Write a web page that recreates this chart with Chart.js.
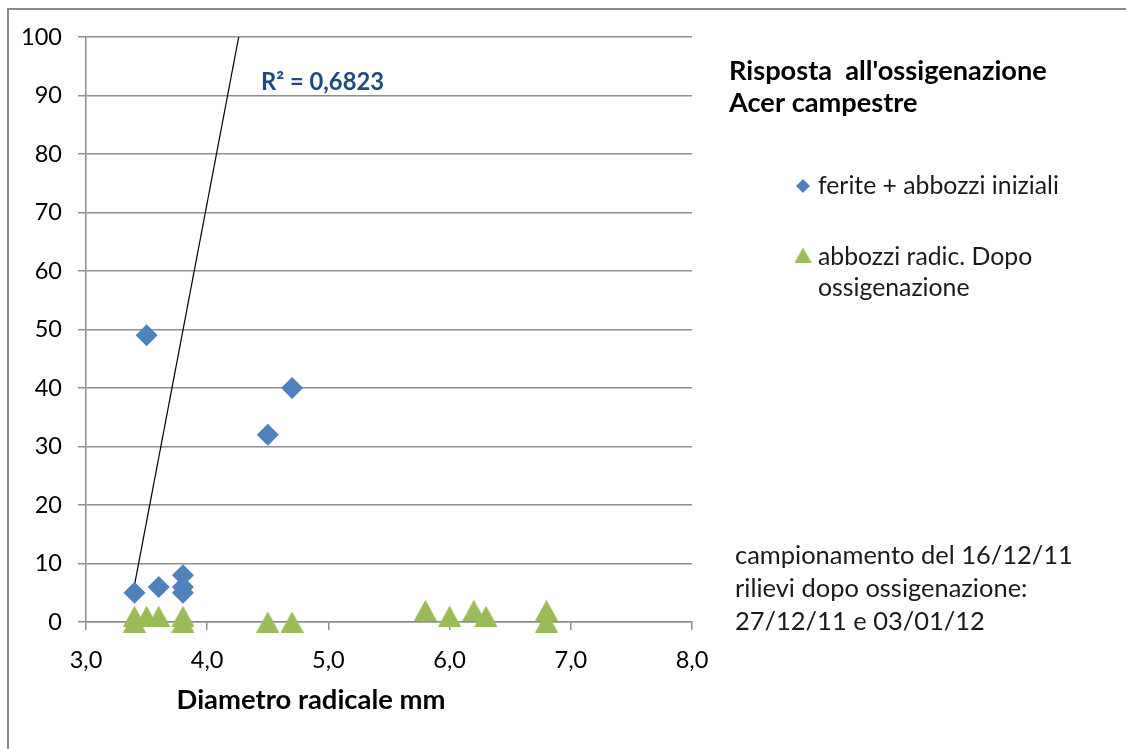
<!DOCTYPE html>
<html>
<head>
<meta charset="utf-8">
<script src="https://cdn.jsdelivr.net/npm/chart.js@4.4.0/dist/chart.umd.min.js"></script>
<style>
  html, body { margin: 0; padding: 0; background: #ffffff; }
  #wrap { width: 1126px; height: 749px; }
</style>
</head>
<body>
<div id="wrap"><canvas id="chart" width="1126" height="749"></canvas></div>
<script>
// ferite + abbozzi iniziali
const feriteX = [3.4, 3.5, 3.6, 3.8, 3.8, 3.8, 4.5, 4.7];
const feriteY = [5, 49, 6, 8, 6, 5, 32, 40];

// abbozzi radic. dopo ossigenazione
const abbozziX = [3.4, 3.4, 3.5, 3.6, 3.8, 3.8, 4.5, 4.7, 5.8, 6.0, 6.2, 6.3, 6.8, 6.8];
const abbozziY = [0, 1, 1, 1, 0, 1, 0, 0, 2, 1, 2, 1, 2, 0];

// linear trendline
const trendX = [3.4, 4.26];
const trendY = [6.3, 100];

const seriesNames = ["ferite + abbozzi iniziali", "abbozzi radic. Dopo ossigenazione"];
const titleLines = ["Risposta  all'ossigenazione", "Acer campestre"];
const noteLines = ["campionamento del 16/12/11", "rilievi dopo ossigenazione:", "27/12/11 e 03/01/12"];
const r2Label = "R\u00b2 = 0,6823";
const xTitle = "Diametro radicale mm";

const BLUE = "#4f81bd";
const GREEN = "#9bbb59";
const GRID = "#8e8e8e";
const FONT = "Lato";

const toPoints = (xs, ys) => xs.map((x, i) => ({ x: x, y: ys[i] }));

const makeTriangle = (w, h, color) => {
  const c = document.createElement("canvas");
  c.width = w;
  c.height = h;
  const g = c.getContext("2d");
  g.fillStyle = color;
  g.beginPath();
  g.moveTo(w / 2, 0);
  g.lineTo(w, h);
  g.lineTo(0, h);
  g.closePath();
  g.fill();
  return c;
};

const triangleBig = makeTriangle(23, 21, GREEN);
const triangleSmall = makeTriangle(17, 15, GREEN);

const measureCtx = document.createElement("canvas").getContext("2d");
const fitSize = (text, weight, width) => {
  measureCtx.font = `${weight} 100px ${FONT}`;
  return 100 * width / measureCtx.measureText(text).width;
};

const tickSize = fitSize("100", "normal", 41);
const fmtX = (v) => v.toFixed(1).replace(".", ",");

const overlay = {
  id: "overlay",
  beforeDraw(chart) {
    const ctx = chart.ctx;
    ctx.save();
    ctx.strokeStyle = "#8a8a8a";
    ctx.lineWidth = 2;
    ctx.beginPath();
    ctx.moveTo(8, 749);
    ctx.lineTo(8, 9);
    ctx.lineTo(1126, 9);
    ctx.stroke();
    ctx.restore();
  },
  afterDraw(chart) {
    const ctx = chart.ctx;
    ctx.save();
    ctx.textBaseline = "middle";
    ctx.textAlign = "left";
    ctx.fillStyle = "#000000";

    // title
    const tSize = fitSize(titleLines[0], "bold", 318);
    ctx.font = `bold ${tSize}px ${FONT}`;
    ctx.fillText(titleLines[0], 729, 71);
    ctx.fillText(titleLines[1], 729, 103);

    // legend
    const lSize = fitSize(seriesNames[0], "normal", 241);
    ctx.font = `normal ${lSize}px ${FONT}`;
    ctx.fillStyle = "#1a1a1a";
    ctx.fillText(seriesNames[0], 818, 186);
    ctx.fillText("abbozzi radic. Dopo", 818, 257);
    ctx.fillText("ossigenazione", 818, 288);
    ctx.fillStyle = BLUE;
    ctx.beginPath();
    ctx.moveTo(803, 179);
    ctx.lineTo(810, 186);
    ctx.lineTo(803, 193);
    ctx.lineTo(796, 186);
    ctx.closePath();
    ctx.fill();
    ctx.drawImage(triangleSmall, 803 - 8.5, 255 - 7.5);

    // note
    const nSize = fitSize(noteLines[0], "normal", 338);
    ctx.font = `normal ${nSize}px ${FONT}`;
    ctx.fillStyle = "#1a1a1a";
    noteLines.forEach((line, i) => ctx.fillText(line, 735, 556 + i * 33));

    // R squared
    const rSize = fitSize(r2Label, "bold", 123);
    ctx.font = `bold ${rSize}px ${FONT}`;
    ctx.fillStyle = "#1f497d";
    ctx.fillText(r2Label, 261, 82);

    // x axis title
    const aSize = fitSize(xTitle, "bold", 269);
    ctx.font = `bold ${aSize}px ${FONT}`;
    ctx.fillStyle = "#000000";
    ctx.textAlign = "center";
    ctx.fillText(xTitle, 311, 700);
    ctx.restore();
  },
};

const chart = new Chart(document.getElementById("chart"), {
  type: "scatter",
  plugins: [overlay],
  data: {
    datasets: [
      {
        label: seriesNames[1],
        data: toPoints(abbozziX, abbozziY),
        pointStyle: triangleBig,
        pointRadius: 10,
        pointHoverRadius: 10,
        backgroundColor: GREEN,
        borderWidth: 0,
        clip: false,
        order: 0,
      },
      {
        label: seriesNames[0],
        data: toPoints(feriteX, feriteY),
        pointStyle: "rectRot",
        pointRadius: 11,
        pointHoverRadius: 11,
        backgroundColor: BLUE,
        borderWidth: 0,
        clip: false,
        order: 1,
      },
      {
        label: "trend",
        data: toPoints(trendX, trendY),
        showLine: true,
        pointRadius: 0,
        borderColor: "#000000",
        borderWidth: 1.2,
        order: 2,
      },
    ],
  },
  options: {
    responsive: false,
    animation: false,
    events: [],
    layout: { padding: { left: 0, right: 434, top: 37, bottom: 0 } },
    plugins: {
      legend: { display: false },
      tooltip: { enabled: false },
    },
    scales: {
      x: {
        type: "linear",
        min: 3,
        max: 8,
        ticks: {
          stepSize: 1,
          color: "#000000",
          font: { family: FONT, size: tickSize },
          padding: 16,
          callback: (v) => fmtX(v),
        },
        grid: { drawOnChartArea: false, drawTicks: true, tickLength: 8, color: GRID, lineWidth: 1.5 },
        border: { color: GRID, width: 1.5 },
        afterFit: (s) => { s.height = 127; },
      },
      y: {
        min: 0,
        max: 100,
        ticks: {
          stepSize: 10,
          color: "#000000",
          font: { family: FONT, size: tickSize },
          padding: 16,
        },
        grid: { color: GRID, lineWidth: 1.5, tickLength: 8 },
        border: { color: GRID, width: 1.5 },
        afterFit: (s) => { s.width = 86; },
      },
    },
  },
});
</script>
</body>
</html>
